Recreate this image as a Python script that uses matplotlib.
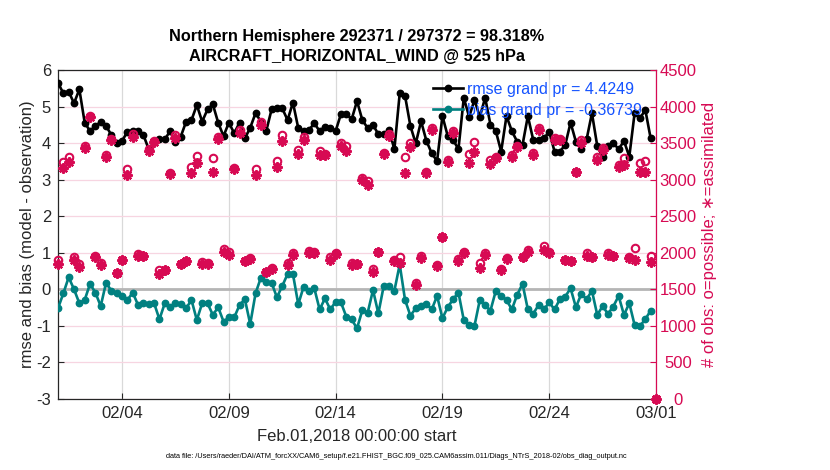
import numpy as np
import pandas as pd
import matplotlib
matplotlib.use("Agg")
import matplotlib.pyplot as plt

plt.rcParams['font.family'] = ['Liberation Sans', 'DejaVu Sans']

# ---------------- data ----------------
times = pd.date_range('2018-02-01 00:00', periods=113, freq='6h')

rmse = [5.65, 5.36, 5.41, 5.09, 5.47, 4.56, 4.33, 4.47, 4.58, 4.47,
        4.22, 4.01, 4.06, 4.31, 4.33, 4.33, 4.22, 3.83, 4.04, 4.10,
        4.10, 4.33, 4.04, 4.18, 4.59, 4.63, 5.04, 4.59, 4.92, 5.06,
        4.56, 4.19, 4.56, 4.27, 4.56, 4.13, 4.42, 4.82, 4.59, 4.33,
        4.92, 4.95, 4.95, 4.63, 5.11, 4.41, 4.33, 4.36, 4.54, 4.33,
        4.45, 4.41, 4.33, 4.80, 4.80, 4.65, 5.15, 4.63, 4.41, 4.50,
        4.24, 4.24, 4.36, 3.83, 5.36, 5.29, 4.47, 3.99, 4.60, 4.06,
        3.72, 3.51, 4.74, 4.19, 4.09, 3.83, 5.24, 4.72, 5.18, 4.72,
        5.24, 4.50, 4.33, 3.77, 4.74, 4.33, 4.04, 3.95, 4.74, 4.09,
        4.09, 4.13, 4.31, 3.77, 3.77, 3.95, 4.56, 4.04, 3.83, 4.10,
        4.82, 3.92, 3.63, 3.92, 4.01, 3.83, 4.06, 3.63, 4.83, 4.68,
        4.91, 4.13, np.nan]

bias = [-0.52, -0.11, 0.33, 0.00, -0.38, -0.29, 0.15, -0.09, -0.46, 0.18,
        -0.04, -0.11, -0.18, -0.29, -0.09, -0.43, -0.38, -0.40, -0.38, -0.82,
        -0.38, -0.49, -0.38, -0.40, -0.52, -0.29, -0.84, -0.38, -0.38, -0.70,
        -0.49, -0.88, -0.77, -0.77, -0.43, -0.27, -0.95, -0.11, 0.32, 0.21,
        0.18, -0.22, 0.09, 0.42, 0.42, -0.41, 0.07, -0.04, 0.03, -0.55,
        -0.25, -0.55, -0.34, -0.36, -0.75, -0.82, -1.07, -0.57, -0.64, -0.02,
        -0.66, 0.09, 0.09, -0.04, 0.68, -0.29, -0.72, -0.52, -0.46, -0.40,
        -0.55, -0.18, -0.79, -0.49, -0.27, -0.09, -0.84, -0.98, -1.00, -0.29,
        -0.43, -0.58, -0.04, -0.18, -0.29, -0.55, -0.15, 0.15, -0.55, -0.67,
        -0.43, -0.55, -0.36, -0.55, -0.27, -0.20, 0.03, -0.49, -0.13, -0.27,
        -0.04, -0.70, -0.46, -0.67, -0.47, -0.18, -0.70, -0.38, -0.98, -1.00,
        -0.82, -0.58, np.nan]

nposs = [1902, 3246, 3306, 1938, 1847, 3461, 3871, 1956, 1856, 3337,
         3552, 1728, 1902, 3141, 3625, 1984, 1956, 3415, 3529, 1765,
         1765, 3096, 3611, 1847, 1892, 3178, 3324, 1879, 1856, 3292,
         3579, 2047, 2015, 3155, 3679, 1892, 1924, 3141, 3793, 1742,
         1787, 3255, 3611, 1856, 1993, 3406, 3588, 2029, 2015, 3397,
         3347, 1938, 1993, 3497, 3461, 1856, 1847, 3018, 2987, 1774,
         2015, 3360, 3625, 1902, 1938, 3315, 3506, 1582, 1956, 3110,
         3702, 1833, 2221, 3269, 3670, 1911, 2015, 3347, 3520, 1856,
         1993, 3269, 3315, 1774, 1924, 3337, 3461, 1947, 2038, 3360,
         3702, 2093, 2015, 3565, 3552, 1902, 1892, 3110, 3543, 1993,
         1947, 3315, 3429, 1993, 1956, 3201, 3292, 1947, 2061, 3233,
         3260, 1956, 0]

nused = [1847, 3155, 3246, 1902, 1801, 3429, 3853, 1947, 1833, 3306,
         3543, 1720, 1895, 3064, 3579, 1956, 1950, 3397, 3520, 1710,
         1760, 3078, 3565, 1840, 1885, 3096, 3224, 1847, 1850, 3110,
         3552, 2015, 1970, 3150, 3643, 1885, 1915, 3064, 3748, 1735,
         1780, 3169, 3534, 1833, 1970, 3347, 3543, 2002, 1993, 3337,
         3340, 1902, 1985, 3461, 3397, 1833, 1840, 2996, 2927, 1742,
         2008, 3352, 3597, 1892, 1856, 3096, 3442, 1560, 1924, 3087,
         3680, 1820, 2214, 3246, 3634, 1892, 1993, 3233, 3383, 1787,
         1970, 3214, 3292, 1765, 1915, 3315, 3442, 1938, 2015, 3337,
         3680, 2038, 1993, 3543, 3540, 1895, 1885, 3105, 3506, 1956,
         1940, 3269, 3406, 1970, 1950, 3178, 3201, 1924, 1902, 3110,
         3110, 1879, 0]

xtick_dates = ['2018-02-04', '2018-02-09', '2018-02-14', '2018-02-19',
               '2018-02-24', '2018-03-01']
xtick_labels = ['02/04', '02/09', '02/14', '02/19', '02/24', '03/01']
left_ticks = [-3, -2, -1, 0, 1, 2, 3, 4, 5, 6]
right_ticks = [0, 500, 1000, 1500, 2000, 2500, 3000, 3500, 4000, 4500]

title1 = 'Northern Hemisphere 292371 / 297372 = 98.318%'
title2 = 'AIRCRAFT_HORIZONTAL_WIND @ 525 hPa'
legend_labels = ['rmse grand pr = 4.4249', 'bias grand pr = -0.36739']
footer = ('data file: /Users/raeder/DAI/ATM_forcXX/CAM6_setup/'
          'f.e21.FHIST_BGC.f09_025.CAM6assim.011/Diags_NTrS_2018-02/obs_diag_output.nc')

# ---------------- style ----------------
RED = '#D70A53'
TEAL = '#008080'
BLUE = '#1553FF'
PINK = '#F7D5E1'
GRID = '#D9D9D9'

W, H = 830, 470
fig = plt.figure(figsize=(W / 100, H / 100), dpi=100)
L, R, B, T = 58, 656, 399, 70
ax = fig.add_axes([L / W, 1 - B / H, (R - L) / W, (B - T) / H])
ax2 = ax.twinx()

# grids (drawn on the left axis so they stay beneath everything)
ax.set_axisbelow(True)
ax.grid(axis='x', color=GRID, lw=0.9)
ax.grid(axis='y', color=PINK, lw=0.9)
ax.axhline(0, color='#B5B5B5', lw=2.0, zorder=1)

l1, = ax.plot(times, rmse, '-o', color='k', lw=1.9, ms=4.6,
              mfc='k', mec='k', zorder=3)
l2, = ax.plot(times, bias, '-o', color=TEAL, lw=1.9, ms=4.6,
              mfc=TEAL, mec=TEAL, zorder=3)

ax2.plot(times, nused, linestyle='none', marker=(8, 2, 0), ms=7.3,
         mew=1.7, color=RED, clip_on=False, zorder=3)
ax2.plot(times, nposs, linestyle='none', marker='o', ms=5.4,
         mew=1.5, mfc='none', mec=RED, clip_on=False, zorder=4)

# axes ranges / ticks
ax.set_xlim(pd.Timestamp('2018-02-01'), pd.Timestamp('2018-03-01'))
ax.set_ylim(-3, 6)
ax2.set_ylim(0, 4500)
ax.set_xticks(pd.to_datetime(xtick_dates))
ax.set_xticklabels(xtick_labels)
ax.set_yticks(left_ticks)
ax.set_yticklabels([str(v) for v in left_ticks])
ax2.set_yticks(right_ticks)
ax2.set_yticklabels([str(v) for v in right_ticks])

ax.tick_params(axis='both', direction='in', length=4, width=0.8,
               labelsize=12, colors='#262626', pad=5)
ax.tick_params(axis='y', right=False)
ax2.tick_params(axis='y', direction='in', length=4, width=0.8,
                labelsize=12, colors=RED, pad=15.8)
for lab in ax2.get_yticklabels():
    lab.set_horizontalalignment('center')

for s in ['left', 'bottom', 'top']:
    ax.spines[s].set_color('#262626')
    ax.spines[s].set_linewidth(0.9)
ax.spines['right'].set_visible(False)
ax2.spines['left'].set_visible(False)
ax2.spines['bottom'].set_visible(False)
ax2.spines['top'].set_visible(False)
ax2.spines['right'].set_color(RED)
ax2.spines['right'].set_linewidth(0.9)

ax.set_ylabel('rmse and bias (model - observation)', fontsize=12,
              color='#262626', labelpad=1)
ax2.set_ylabel('# of obs: o=possible; \u2217=assimilated', fontsize=12,
               color=RED, labelpad=4)
ax.set_xlabel('Feb.01,2018 00:00:00 start', fontsize=12, color='#262626',
              labelpad=6)

fig.text(357 / W, 1 - 37 / H, title1, ha='center', va='center',
         fontsize=11.7, fontweight='bold')
fig.text(357 / W, 1 - 56 / H, title2, ha='center', va='center',
         fontsize=11.7, fontweight='bold')

fig.legend([l1, l2], legend_labels, loc='upper left',
           bbox_to_anchor=(433 / W, 1 - 82 / H), frameon=False,
           borderpad=0, borderaxespad=0, handlelength=1.9,
           handletextpad=0.25, labelspacing=0.38, fontsize=11.5,
           labelcolor=BLUE)

fig.text(396 / W, 1 - 456 / H, footer, ha='center', va='center',
         fontsize=5.3)

fig.savefig('out.png', dpi=100)
